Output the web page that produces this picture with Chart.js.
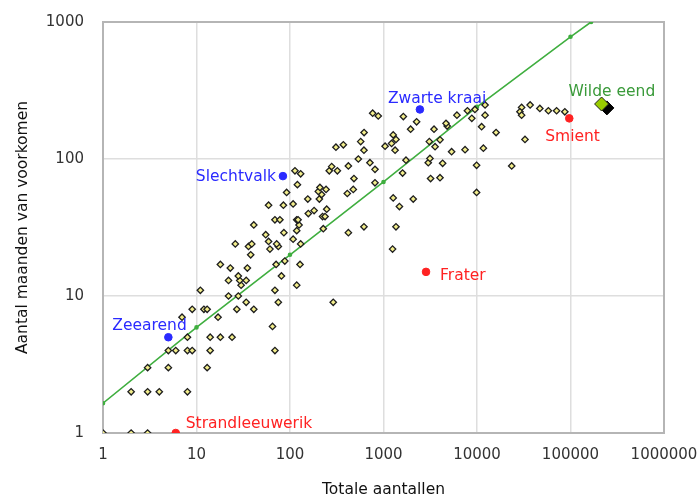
<!DOCTYPE html>
<html>
<head>
<meta charset="utf-8">
<script src="https://cdn.jsdelivr.net/npm/chart.js@4"></script>
<style>
  html, body { margin: 0; padding: 0; background: #fff; }
  #wrap { width: 699px; height: 495px; }
</style>
</head>
<body>
<div id="wrap"><canvas id="chart"></canvas></div>
<script>
// Tick labels
const xTicks = [1, 10, 100, 1000, 10000, 100000, 1000000];
const yTicks = [1, 10, 100, 1000];

// Trend line
const lineX = [1, 10, 100, 1000, 10000, 100000, 166000];
const lineY = [1.65, 5.9, 20, 68, 240, 780, 1000];

// All species: total count vs. number of months present
const speciesX = [
    1, 2, 3,
    2, 3, 4, 8,
    3, 5, 13,
    5, 6, 8, 9, 14, 69,
    8, 14, 18, 24,
    65,
    7, 17,
    9, 12, 13, 27, 41,
    34, 75, 290,
    22, 28,
    11, 69,
    30, 118,
    22, 29, 34, 28, 81,
    23, 35,
    18, 71, 128, 88,
    38,
    61, 75, 36, 26, 39, 72, 130,
    59, 108, 55,
    86, 118, 227, 421, 618, 1360, 1250,
    125, 41,
    69, 78, 118, 122,
    223, 237, 157, 181, 247,
    1480, 59, 85, 108,
    155, 206, 1270, 2080,
    218, 410, 92, 201, 9900,
    243, 475, 209,
    120, 811,
    483, 3190, 4020,
    130, 1600, 113, 263, 321,
    811, 279, 421, 23500, 9900,
    3010, 4290, 716, 1740, 538, 3140,
    5350, 7450, 11700, 1330, 618,
    310, 372, 1040, 3560, 1220,
    570, 3090, 1360, 4020, 32600,
    1270, 620, 16000, 1950, 3470,
    11200, 4800, 4660, 2260,
    8800, 1630, 879, 766,
    6100, 12200, 7900, 9500, 12200,
    30000, 28800, 30000, 37000,
    47000, 58000, 71000, 87000
];
const speciesY = [
    1, 1, 1,
    2, 2, 2, 2,
    3, 3, 3,
    4, 4, 4, 4, 4, 4,
    5, 5, 5, 5,
    6,
    7, 7,
    8, 8, 8, 8, 8,
    9, 9, 9,
    10, 10,
    11, 11,
    12, 12,
    13, 13, 13, 14, 14,
    16, 16,
    17, 17, 17, 18,
    20,
    22, 23, 23, 24, 24, 24, 24,
    25, 26, 28,
    29, 30, 31, 29, 32, 32, 22,
    33, 33,
    36, 36, 36, 36,
    38, 38, 40, 42, 43,
    45, 46, 46, 47,
    51, 51, 52, 51,
    55, 56, 57, 58, 57,
    60, 60, 62,
    65, 67,
    72, 72, 73,
    78, 79, 82, 82, 82,
    84, 88, 89, 89, 90,
    94, 93, 94, 98, 100, 101,
    113, 117, 120, 116, 116,
    122, 127, 124, 123, 130,
    134, 134, 139, 138, 139,
    150, 156, 156, 165, 165,
    172, 174, 182, 187,
    198, 204, 206, 216,
    209, 209, 225, 230, 248,
    238, 221, 209, 248,
    234, 225, 225, 221
];

// Highlighted species
const labelNames = ['Zwarte kraai', 'Wilde eend', 'Smient', 'Slechtvalk', 'Frater', 'Zeearend', 'Strandleeuwerik'];
const labelX = [2450, 215000, 97000, 84, 2850, 5, 6];
const labelY = [230, 252, 198, 75, 15, 5, 1];
const labelColors = ['#2a2aff', '#3a9a3a', '#ff2222', '#2a2aff', '#ff2222', '#2a2aff', '#ff2222'];
// text offset from the point, in pixels: [dx, dy, align]
const labelOffsets = [
    [-32, -10, 'left'],
    [-33, -12, 'left'],
    [-24, 19, 'left'],
    [-7, 1, 'right'],
    [14, 4, 'left'],
    [-56, -11, 'left'],
    [10, -9, 'left']
];

const FONT = '"DejaVu Sans", Verdana, sans-serif';

function toPoints(xs, ys) {
    return xs.map((x, i) => ({ x: x, y: ys[i] }));
}

// ===== Plugins =====
const framePlugin = {
    id: 'frame',
    beforeDatasetsDraw(chart) {
        const { ctx, chartArea: a } = chart;
        ctx.save();
        ctx.strokeStyle = '#b5b5b5';
        ctx.lineWidth = 2;
        ctx.strokeRect(a.left, a.top, a.right - a.left, a.bottom - a.top);
        ctx.restore();
    }
};

const labelPlugin = {
    id: 'speciesLabels',
    afterDatasetsDraw(chart) {
        const { ctx } = chart;
        const xs = chart.scales.x;
        const ys = chart.scales.y;
        ctx.save();
        ctx.font = '15.5px ' + FONT;
        ctx.textBaseline = 'middle';
        labelNames.forEach((name, i) => {
            const off = labelOffsets[i];
            const px = xs.getPixelForValue(labelX[i]) + off[0];
            const py = ys.getPixelForValue(labelY[i]) + off[1];
            ctx.fillStyle = labelColors[i];
            ctx.textAlign = off[2];
            ctx.fillText(name, px, py);
        });
        ctx.restore();
    }
};

// ===== Datasets =====
const highlightSets = labelNames.map((name, i) => {
    if (name === 'Wilde eend') {
        return {
            label: name,
            data: [{ x: labelX[i], y: labelY[i] }],
            pointStyle: 'rectRot',
            pointRadius: 7,
            backgroundColor: '#99cc00',
            borderColor: '#222',
            borderWidth: 1,
            order: 0
        };
    }
    return {
        label: name,
        data: [{ x: labelX[i], y: labelY[i] }],
        pointStyle: 'circle',
        pointRadius: 3.8,
        backgroundColor: labelColors[i],
        borderColor: labelColors[i],
        borderWidth: 1,
        order: 1
    };
});

// dark shadow under the Wilde eend marker
const shadowSet = {
    label: 'schaduw',
    data: [{ x: 245000, y: 236 }],
    pointStyle: 'rectRot',
    pointRadius: 7,
    backgroundColor: '#000',
    borderColor: '#000',
    order: 2
};

new Chart(document.getElementById('chart'), {
    type: 'scatter',
    data: {
        datasets: [
            ...highlightSets,
            shadowSet,
            {
                label: 'soorten',
                data: toPoints(speciesX, speciesY),
                pointStyle: 'rectRot',
                pointRadius: 3.2,
                backgroundColor: '#f3ee8c',
                borderColor: '#1e1e1e',
                borderWidth: 1.3,
                order: 3
            },
            {
                type: 'line',
                label: 'trend',
                data: toPoints(lineX, lineY),
                borderColor: '#3fae3f',
                backgroundColor: '#3fae3f',
                borderWidth: 1.6,
                pointRadius: 1.5,
                tension: 0,
                fill: false,
                order: 4
            }
        ]
    },
    options: {
        responsive: true,
        maintainAspectRatio: false,
        animation: false,
        layout: { padding: { left: 0, right: 35, top: 22, bottom: 0 } },
        plugins: {
            legend: { display: false },
            tooltip: { enabled: false }
        },
        scales: {
            x: {
                type: 'logarithmic',
                min: 1,
                max: 1000000,
                afterBuildTicks: (scale) => { scale.ticks = xTicks.map(v => ({ value: v })); },
                afterFit: (scale) => {
                    scale.height = 62;
                    scale.paddingLeft = 0;
                    scale.paddingRight = 0;
                },
                ticks: {
                    callback: (v) => String(v),
                    autoSkip: false,
                    maxRotation: 0,
                    color: '#333',
                    font: { family: FONT, size: 15 },
                    padding: 13
                },
                grid: { color: '#dedede', lineWidth: 1.5, drawTicks: false },
                border: { display: false },
                title: {
                    display: true,
                    text: 'Totale aantallen',
                    color: '#111',
                    font: { family: FONT, size: 15.5 },
                    padding: { top: 2, bottom: -4 }
                }
            },
            y: {
                type: 'logarithmic',
                min: 1,
                max: 1000,
                afterBuildTicks: (scale) => { scale.ticks = yTicks.map(v => ({ value: v })); },
                afterFit: (scale) => {
                    scale.width = 103;
                    scale.paddingTop = 0;
                    scale.paddingBottom = 0;
                },
                ticks: {
                    callback: (v) => String(v),
                    autoSkip: false,
                    color: '#333',
                    font: { family: FONT, size: 15 },
                    padding: 19
                },
                grid: { color: '#dedede', lineWidth: 1.5, drawTicks: false },
                border: { display: false },
                title: {
                    display: true,
                    text: 'Aantal maanden van voorkomen',
                    color: '#111',
                    font: { family: FONT, size: 15.5 },
                    padding: { top: 14, bottom: 4 }
                }
            }
        }
    },
    plugins: [framePlugin, labelPlugin]
});
</script>
</body>
</html>
